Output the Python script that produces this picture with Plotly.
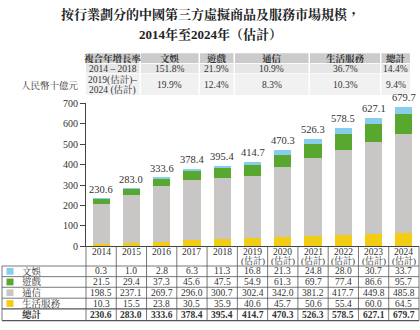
import plotly.graph_objects as go

W, H = 420, 330

years = ["2014", "2015", "2016", "2017", "2018", "2019", "2020", "2021", "2022", "2023", "2024"]
estimated = [False, False, False, False, False, True, True, True, True, True, True]
entertainment = [0.3, 1.0, 2.8, 6.3, 11.3, 16.8, 21.3, 24.8, 28.0, 30.7, 33.7]
games = [21.5, 29.4, 37.3, 45.6, 47.5, 54.9, 61.3, 69.7, 77.4, 86.6, 95.7]
telecom = [198.5, 237.1, 269.7, 296.0, 300.7, 302.4, 342.0, 381.2, 417.7, 449.8, 485.8]
life_services = [10.3, 15.5, 23.8, 30.5, 35.9, 40.6, 45.7, 50.6, 55.4, 60.0, 64.5]
totals = [230.6, 283.0, 333.6, 378.4, 395.4, 414.7, 470.3, 526.3, 578.5, 627.1, 679.7]

cagr_header = ["複合年增長率", "文娛", "遊戲", "通信", "生活服務", "總計"]
cagr_row1 = ["2014 – 2018", "151.8%", "21.9%", "10.9%", "36.7%", "14.4%"]
cagr_row2 = [("2019(估計)–", "2024 (估計)"), "19.9%", "12.4%", "8.3%", "10.3%", "9.4%"]

C_ENT = "#86cdee"
C_GAME = "#58a830"
C_TEL = "#c9c7c5"
C_LIFE = "#f3cc14"

FONT = "Liberation Serif, Noto Serif CJK TC, Noto Sans CJK TC, serif"
TXT = "#333333"


def px(x):
    return x / W


def py(y):
    return 1 - y / H


# plot area in pixels
X0, X1 = 86, 419
Y_TOP, Y_BOT = 101.7, 249.7
n = len(years)
cw = (X1 - X0) / n

xs = list(range(n))
fig = go.Figure()
for name, vals, col in [("生活服務", life_services, C_LIFE), ("通信", telecom, C_TEL),
                        ("遊戲", games, C_GAME), ("文娛", entertainment, C_ENT)]:
    fig.add_bar(x=xs, y=vals, name=name, marker=dict(color=col, line=dict(width=0)),
                width=0.57, showlegend=False, hoverinfo="skip")

ann = []
shapes = []


def ptext(x, y, text, size=9.5, xanchor="center", color=TXT):
    ann.append(dict(x=px(x), y=py(y), xref="paper", yref="paper", text=text, showarrow=False,
                    xanchor=xanchor, yanchor="middle",
                    font=dict(size=size, color=color, family=FONT)))


# totals above bars
for i, t in enumerate(totals):
    ann.append(dict(x=i, y=t, xref="x", yref="y", text=f"{t:.1f}", showarrow=False,
                    xanchor="center", yanchor="bottom", yshift=2,
                    font=dict(size=10.5, color=TXT, family=FONT)))

# title
ptext(210, 9.5, "<b>按行業劃分的中國第三方虛擬商品及服務市場規模，</b>", size=13, color="#222")
ptext(210, 31, "<b>2014年至2024年（估計）</b>", size=13, color="#222")

# unit label
ptext(50, 83.5, "人民幣十億元", size=9.5)

# CAGR table
cols = [(86, 139.5), (141, 198.5), (200, 233.5), (235, 308.5), (310, 380), (381.5, 410)]
rows = [(50, 60, "#cbcbcb", cagr_header, True),
        (60.8, 70.6, "#e6e6e6", cagr_row1, False),
        (71.3, 93, "#f1f1f1", cagr_row2, False)]
for (ya, yb, bg, texts, bold) in rows:
    for (xa, xb), t in zip(cols, texts):
        shapes.append(dict(type="rect", xref="paper", yref="paper", x0=px(xa), x1=px(xb),
                           y0=py(yb), y1=py(ya), fillcolor=bg, line=dict(width=0)))
        xc = (xa + xb) / 2
        if isinstance(t, tuple):
            ptext(xc, 78, t[0], size=9.5)
            ptext(xc, 88, t[1], size=9.5)
        else:
            ptext(xc, (ya + yb) / 2 + 0.3, f"<b>{t}</b>" if bold else t, size=9.5)

# bottom data table
line_col = "#555555"
row_lines = [270, 281, 292, 303.3, 314.3, 326.5]
# year header texts
for i, (lab, est) in enumerate(zip(years, estimated)):
    ann.append(dict(x=i, y=py(256), xref="x", yref="paper", text=lab, showarrow=False,
                    xanchor="center", yanchor="middle",
                    font=dict(size=9.5, color=TXT, family=FONT)))
    if est:
        ann.append(dict(x=i, y=py(264.5), xref="x", yref="paper", text="(估計)", showarrow=False,
                        xanchor="center", yanchor="middle",
                        font=dict(size=9, color=TXT, family=FONT)))
# vertical lines
for k in range(n + 1):
    xx = X0 + k * cw
    shapes.append(dict(type="line", xref="paper", yref="paper", x0=px(xx), x1=px(xx),
                       y0=py(Y_BOT), y1=py(row_lines[-1]), line=dict(color=line_col, width=0.8)))
# left border
shapes.append(dict(type="line", xref="paper", yref="paper", x0=px(2), x1=px(2),
                   y0=py(row_lines[0]), y1=py(row_lines[-1]), line=dict(color=line_col, width=0.8)))
# horizontal lines
for j, yy in enumerate(row_lines):
    shapes.append(dict(type="line", xref="paper", yref="paper", x0=px(2), x1=px(X1),
                       y0=py(yy), y1=py(yy),
                       line=dict(color=line_col, width=1.3 if j in (4, 5) else 0.8)))

table_rows = [("文娛", entertainment, C_ENT), ("遊戲", games, C_GAME),
              ("通信", telecom, C_TEL), ("生活服務", life_services, C_LIFE),
              ("總計", totals, None)]
for r, (name, vals, col) in enumerate(table_rows):
    ya, yb = row_lines[r], row_lines[r + 1]
    yc = (ya + yb) / 2
    bold = col is None
    if col is not None:
        shapes.append(dict(type="rect", xref="paper", yref="paper", x0=px(6.5), x1=px(13.5),
                           y0=py(yc + 3.5), y1=py(yc - 3.5), fillcolor=col, line=dict(width=0)))
    ptext(20, yc, f"<b>{name}</b>" if bold else name, size=9.5, xanchor="left")
    for i, v in enumerate(vals):
        ann.append(dict(x=i, y=py(yc), xref="x", yref="paper",
                        text=(f"<b>{v:.1f}</b>" if bold else f"{v:.1f}"), showarrow=False,
                        xanchor="center", yanchor="middle",
                        font=dict(size=9.5, color=TXT, family=FONT)))

fig.update_layout(
    width=W, height=H, margin=dict(l=0, r=0, t=0, b=0),
    paper_bgcolor="white", plot_bgcolor="white",
    barmode="stack", bargap=0.43,
    annotations=ann, shapes=shapes,
    xaxis=dict(domain=[px(X0), px(X1)], range=[-0.5, n - 0.5], showticklabels=False,
               showgrid=False, zeroline=False, showline=True, linecolor="#444", linewidth=1,
               ticks="", fixedrange=True),
    yaxis=dict(domain=[py(Y_BOT), py(Y_TOP)], range=[0, 700], tickvals=list(range(0, 701, 100)),
               showgrid=False, zeroline=False, showline=True, linecolor="#444", linewidth=1,
               ticks="outside", ticklen=5, tickcolor="#444",
               tickfont=dict(size=10, color=TXT, family=FONT), fixedrange=True),
)

fig.write_html("out.html")
